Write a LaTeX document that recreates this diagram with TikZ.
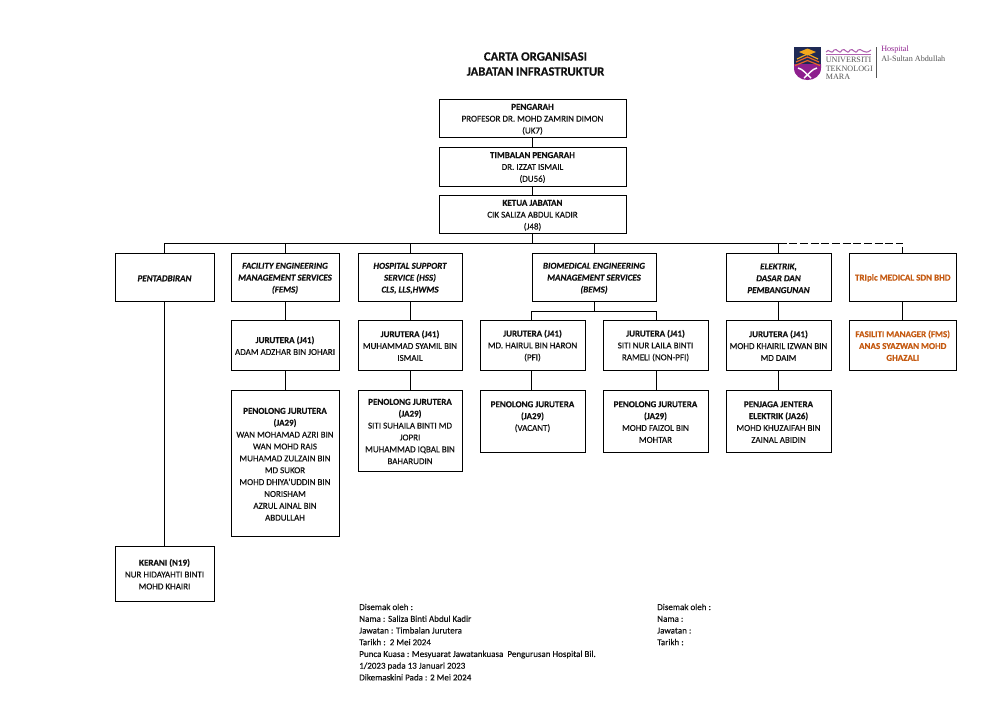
\documentclass[tikz,border=0pt]{standalone}
\usepackage{fontspec}
\setmainfont{Carlito}[FakeBold=0.25]
\newfontfamily\logofont{Liberation Serif}
\definecolor{ink}{HTML}{111111}
\definecolor{orangetxt}{HTML}{C55A11}
\definecolor{logomag}{HTML}{8E1F8E}
\definecolor{logonavy}{HTML}{1F2A55}
\definecolor{logogold}{HTML}{F2A81D}
\definecolor{logoorg}{HTML}{E5642A}
\definecolor{logogrey}{HTML}{555555}
\newcommand{\hd}[1]{{\bfseries #1}}
\newcommand{\dept}[1]{{\bfseries\itshape #1}}
\newcommand{\bx}[6]{\node[orgbox,minimum width={(#4-#2)*0.75pt},minimum height={(#5-#3)*0.75pt}] (#1) at ({(#2+#4)/2},{(#3+#5)/2}) {\rule{0pt}{6pt}#6};}
\tikzset{
  orgbox/.style={draw=black,line width=0.75pt,inner sep=0pt,align=center,text=ink,font=\fontsize{6.75}{8.9}\selectfont},
  link/.style={draw=black,line width=0.75pt},
  linkdash/.style={draw=black,line width=0.75pt,dash pattern=on 6pt off 2pt},
  foot/.style={anchor=north west,inner sep=0pt,align=left,text=ink,font=\fontsize{6.75}{8.8}\selectfont},
  title/.style={inner sep=0pt,align=center,text=ink,font=\fontsize{9.5}{11.25}\selectfont\bfseries},
  logotext/.style={inner sep=0pt,anchor=west,text=logogrey,font=\logofont\fontsize{6.1}{8}\selectfont},
  logohosp/.style={inner sep=0pt,anchor=west,text=logogrey,font=\logofont\fontsize{6.1}{8}\selectfont}
}
\begin{document}
\begin{tikzpicture}[x=0.75pt,y=-0.75pt]
\useasboundingbox (0,0) rectangle (1007,719);
\fill[white] (0,0) rectangle (1007,719);

\node[title] (ttl) at (535.5,64) {CARTA ORGANISASI\\JABATAN INFRASTRUKTUR};

% logo
\fill[logonavy] (794,47) -- (821,47) -- (821,66) -- (794,66) -- cycle;
\fill[logomag] (794,64) -- (821,64) -- (821,68) .. controls (821,76) and (814,80) .. (807.5,80) .. controls (801,80) and (794,76) .. (794,68) -- cycle;
\fill[logogold] (799,52) -- (807.5,48.5) -- (816,52) -- (807.5,55.5) -- cycle;
\draw[logogold,line width=0.9pt] (797,59) -- (807.5,54) -- (818,59);
\draw[logoorg,line width=0.9pt] (796,62) -- (807.5,57) -- (819,62);
\draw[logoorg,line width=0.9pt] (795,65.5) -- (807.5,60.5) -- (820,65.5);
\draw[white,line width=1.1pt] (798,68) .. controls (803,69) and (806,74) .. (811,78);
\draw[white,line width=1.1pt] (817,68) .. controls (812,69) and (809,74) .. (804,78);
\draw[logomag!70,line width=0.8pt] (826,52) .. controls (829,47) and (831,56) .. (834,50) .. controls (837,47) and (839,56) .. (842,50) .. controls (845,47) and (847,56) .. (850,50) .. controls (853,47) and (855,56) .. (858,50) .. controls (861,47) and (864,56) .. (871,50);
\draw[logomag!70,line width=0.6pt] (826,54.5) -- (871,54.5);
\node[logotext] (lu) at (825.5,60) {UNIVERSITI};
\node[logotext] (lt) at (825.5,68.5) {TEKNOLOGI};
\node[logotext] (lm) at (825.5,77) {MARA};
\draw[logogrey,line width=0.4pt] (876.5,47) -- (876.5,78);
\node[logohosp,text=logomag] (lh) at (881,50) {Hospital};
\node[logohosp] (la) at (881,59) {Al-Sultan Abdullah};

% boxes
\bx{pengarah}{439}{99}{626}{137.5}{\hd{PENGARAH}\\PROFESOR DR. MOHD ZAMRIN DIMON\\(UK7)}
\bx{timbalan}{439}{147}{626}{186}{\hd{TIMBALAN PENGARAH}\\DR. IZZAT ISMAIL\\(DU56)}
\bx{ketua}{439}{195}{626}{233.5}{\hd{KETUA JABATAN}\\CIK SALIZA ABDUL KADIR\\(J48)}

\bx{pentad}{115}{253}{214}{301.5}{\dept{PENTADBIRAN}}
\bx{fems}{231}{253}{339}{301.5}{\dept{FACILITY ENGINEERING}\\\dept{MANAGEMENT SERVICES}\\\dept{(FEMS)}}
\bx{hss}{358}{253}{462}{301.5}{\dept{HOSPITAL SUPPORT}\\\dept{SERVICE (HSS)}\\\dept{CLS, LLS,HWMS}}
\bx{bems}{532}{253}{656}{301.5}{\dept{BIOMEDICAL ENGINEERING}\\\dept{MANAGEMENT SERVICES}\\\dept{(BEMS)}}
\bx{elek}{726}{253}{831}{301.5}{\dept{ELEKTRIK,}\\\dept{DASAR DAN}\\\dept{PEMBANGUNAN}}
\bx{tri}{849.5}{253}{956}{301.5}{\textcolor{orangetxt}{\hd{TRIplc MEDICAL SDN BHD}}}

\bx{femsj}{231}{320}{339}{370}{\hd{JURUTERA (J41)}\\ADAM ADZHAR BIN JOHARI}
\bx{hssj}{358}{320}{462}{370}{\hd{JURUTERA (J41)}\\MUHAMMAD SYAMIL BIN\\ISMAIL}
\bx{bemsa}{480}{320}{585}{370}{\hd{JURUTERA (J41)}\\MD. HAIRUL BIN HARON\\(PFI)}
\bx{bemsb}{603}{320}{708}{370}{\hd{JURUTERA (J41)}\\SITI NUR LAILA BINTI\\RAMELI (NON-PFI)}
\bx{elekj}{726}{320}{831}{370}{\hd{JURUTERA (J41)}\\MOHD KHAIRIL IZWAN BIN\\MD DAIM}
\bx{trij}{849.5}{320}{956}{370}{\textcolor{orangetxt}{\hd{FASILITI MANAGER (FMS)}}\\\textcolor{orangetxt}{\hd{ANAS SYAZWAN MOHD}}\\\textcolor{orangetxt}{\hd{GHAZALI}}}

\bx{femsp}{231}{390}{339}{536.5}{\hd{PENOLONG JURUTERA}\\\hd{(JA29)}\\WAN MOHAMAD AZRI BIN\\WAN MOHD RAIS\\MUHAMAD ZULZAIN BIN\\MD SUKOR\\MOHD DHIYA'UDDIN BIN\\NORISHAM\\AZRUL AINAL BIN\\ABDULLAH}
\bx{hssp}{358}{390}{462}{471}{\hd{PENOLONG JURUTERA}\\\hd{(JA29)}\\SITI SUHAILA BINTI MD\\JOPRI\\MUHAMMAD IQBAL BIN\\BAHARUDIN}
\bx{bemspa}{480}{390}{585}{452}{\hd{PENOLONG JURUTERA}\\\hd{(JA29)}\\(VACANT)\\~}
\bx{bemspb}{603}{390}{708}{452}{\hd{PENOLONG JURUTERA}\\\hd{(JA29)}\\MOHD FAIZOL BIN\\MOHTAR}
\bx{elekp}{726}{390}{831}{452}{\hd{PENJAGA JENTERA}\\\hd{ELEKTRIK (JA26)}\\MOHD KHUZAIFAH BIN\\ZAINAL ABIDIN}
\bx{kerani}{115}{546}{214}{601}{\hd{KERANI (N19)}\\NUR HIDAYAHTI BINTI\\MOHD KHAIRI}

% bus coordinates
\coordinate (bus) at (0,243);
\coordinate (bemsbus) at (0,311);

% connectors
\draw[link] (pengarah) -- (timbalan);
\draw[link] (timbalan) -- (ketua);
\draw[link] (ketua.south) -- (ketua.south |- bus);
\draw[link] (pentad.north |- bus) -- (elek.north |- bus);
\draw[link] (pentad.north |- bus) -- (pentad.north);
\draw[link] (fems.north |- bus) -- (fems.north);
\draw[link] (hss.north |- bus) -- (hss.north);
\draw[link] (bems.north |- bus) -- (bems.north);
\draw[link] (elek.north |- bus) -- (elek.north);
\draw[linkdash] (elek.north |- bus) -- (tri.north |- bus) -- (tri.north);
\draw[link] (pentad.south) -- (pentad.south |- kerani.north);
\draw[link] (fems) -- (femsj);
\draw[link] (femsj) -- (femsp);
\draw[link] (hss) -- (hssj);
\draw[link] (hssj) -- (hssp);
\draw[link] (bems.south) -- (bems.south |- bemsbus);
\draw[link] (bemsa.north -| bems.south west) |- (bems.south east |- bemsbus) -- (bems.south east |- bemsb.north);
\draw[link] (bemsa.south -| bems.south west) -- (bemspa.north -| bems.south west);
\draw[link] (bemsb.south -| bems.south east) -- (bemspb.north -| bems.south east);
\draw[link] (elek) -- (elekj);
\draw[link] (elekj) -- (elekp);
\draw[link] (tri) -- (trij);

% footer
\node[foot] (f1) at (359,603.5) {Disemak oleh :\\Nama : Saliza Binti Abdul Kadir\\Jawatan : Timbalan Jurutera\\Tarikh :\ \ 2 Mei 2024\\Punca Kuasa : Mesyuarat Jawatankuasa\ \ Pengurusan Hospital Bil.\\1/2023 pada 13 Januari 2023\\Dikemaskini Pada : 2 Mei 2024};
\node[foot] (f2) at (657,603.5) {Disemak oleh :\\Nama :\\Jawatan :\\Tarikh :};
\end{tikzpicture}
\end{document}
